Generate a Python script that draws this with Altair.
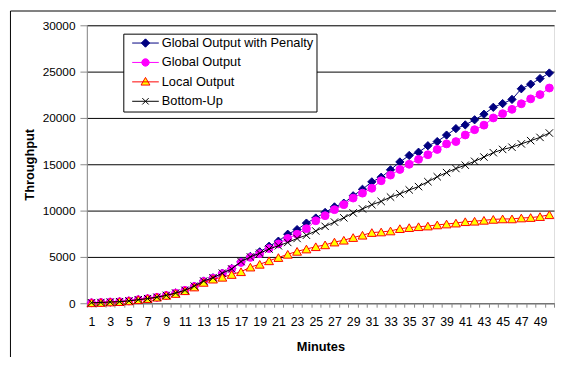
import altair as alt
import pandas as pd
import math

minutes = list(range(1, 51))
series_names = ["Global Output with Penalty", "Global Output", "Local Output", "Bottom-Up"]

penalty = [50, 80, 130, 170, 250, 380, 500, 650, 850, 1100,
           1400, 1850, 2400, 2750, 3250, 3750, 4500, 5050, 5550, 6150,
           6700, 7450, 7950, 8650, 9200, 9800, 10400, 10800, 11600, 12300,
           13100, 13600, 14400, 15250, 15950, 16300, 17000, 17450, 18150, 18850,
           19250, 19800, 20400, 21150, 21550, 22000, 23150, 23650, 24250, 24850]
global_out = [50, 80, 130, 170, 250, 380, 500, 650, 850, 1100,
              1400, 1800, 2350, 2700, 3200, 3700, 4400, 4950, 5350, 5900,
              6400, 7000, 7450, 8050, 8900, 9450, 10100, 10640, 11350, 11880,
              12410, 13220, 13830, 14440, 15000, 15530, 16030, 16600, 17200, 17450,
              18160, 18730, 19220, 20000, 20460, 20930, 21530, 22060, 22520, 23230]
local_out = [50, 80, 130, 170, 250, 380, 500, 650, 850, 1050,
             1350, 1750, 2250, 2600, 2800, 3100, 3400, 3900, 4200, 4580,
             4930, 5280, 5600, 5850, 6100, 6300, 6600, 6800, 7090, 7340,
             7630, 7690, 7800, 8050, 8160, 8260, 8330, 8450, 8550, 8650,
             8800, 8850, 8950, 9050, 9100, 9100, 9200, 9250, 9350, 9550]
bottom_up = [50, 80, 130, 170, 250, 380, 500, 650, 850, 1100,
             1400, 1850, 2400, 2750, 3250, 3700, 4500, 5000, 5400, 5850,
             6200, 6560, 6990, 7340, 7800, 8300, 8760, 9220, 9750, 10180,
             10640, 10990, 11460, 11810, 12230, 12590, 13120, 13650, 14100, 14540,
             14900, 15320, 15780, 16250, 16600, 16840, 17200, 17550, 17900, 18370]

y_ticks = [0, 5000, 10000, 15000, 20000, 25000, 30000]

values = [penalty, global_out, local_out, bottom_up]
rows = []
for name, vals in zip(series_names, values):
    for m, v in zip(minutes, vals):
        rows.append({"minute": m, "value": v, "series": name})
df = pd.DataFrame(rows)

# styles
X_PATH = "M-1,-1L1,1M-1,1L1,-1"
styles = [
    dict(line="#000080", fill="#000080", stroke="#000080", shape="diamond", size=70),
    dict(line="#FF00FF", fill="#FF00FF", stroke="#FF00FF", shape="circle", size=64),
    dict(line="#FF0000", fill="#FFFF00", stroke="#FF0000", shape="triangle-up", size=81),
    dict(line="#000000", fill="transparent", stroke="#000000", shape=X_PATH, size=56),
]

def poly(cx, r, n=16):
    pts = [(cx + r * math.cos(2 * math.pi * k / n), r * math.sin(2 * math.pi * k / n)) for k in range(n)]
    return "M" + "L".join(f"{x:.3f},{y:.3f}" for x, y in pts) + "Z"

LX0, LX1, MC = -0.1, 5.3, 2.6
leg_line = f"M{LX0},0L{LX1},0"
leg_paths = [
    leg_line + f"M{MC-0.85},0L{MC},-0.85L{MC+0.85},0L{MC},0.85Z",
    leg_line + poly(MC, 0.75),
    leg_line + f"M{MC},-0.9L{MC+0.9},0.65L{MC-0.9},0.65Z",
    leg_line + f"M{MC-0.65},-0.65L{MC+0.65},0.65M{MC-0.65},0.65L{MC+0.65},-0.65",
]

W, H = 474, 282
FONT = "Liberation Sans"

x_enc = alt.X("minute:O",
              scale=alt.Scale(type="band", paddingInner=0, paddingOuter=0),
              axis=alt.Axis(title="Minutes", tickBand="extent", labelAngle=0,
                            labelExpr="datum.value % 2 == 1 ? datum.label : ''",
                            labelOverlap=False, tickSize=4, labelPadding=9,
                            labelFontSize=12.5, grid=False,
                            titleFontSize=13, titleFontWeight="bold",
                            titleX=W / 2, titleY=44, titleBaseline="middle"))
y_enc = alt.Y("value:Q",
              scale=alt.Scale(domain=[0, 30000], nice=False),
              axis=alt.Axis(title="Throughput", values=y_ticks, format="d", grid=True,
                            gridColor="black", gridWidth=1, tickSize=7, labelPadding=5,
                            labelFontSize=12, titleFontSize=13, titleFontWeight="bold",
                            titleX=-58, titleY=H / 2, titleAngle=-90,
                            titleAlign="center", titleBaseline="middle"))

base = alt.Chart(df)
layers = []
for name, st in zip(series_names, styles):
    sub = base.transform_filter(alt.datum.series == name)
    layers.append(sub.mark_line(color=st["line"], strokeWidth=1).encode(x=x_enc, y=y_enc))
    layers.append(sub.mark_point(shape=st["shape"], size=st["size"], fill=st["fill"],
                                 stroke=st["stroke"], strokeWidth=1, opacity=1,
                                 filled=st["fill"] != "transparent")
                  .encode(x=x_enc, y=y_enc))

leg = alt.Legend(title=None, orient="none", legendX=37, legendY=8.5,
                 fillColor="white", strokeColor="black", padding=3,
                 symbolSize=100, symbolStrokeWidth=1, symbolOpacity=1,
                 symbolOffset=0, labelOffset=23, rowPadding=5.7,
                 labelFont=FONT, labelFontSize=13, labelColor="black")
legend_layer = base.transform_filter("false").mark_point(filled=True, opacity=1).encode(
    x=x_enc, y=y_enc,
    shape=alt.Shape("series:N", scale=alt.Scale(domain=series_names, range=leg_paths), legend=leg),
    fill=alt.Fill("series:N", scale=alt.Scale(domain=series_names, range=[s["fill"] for s in styles]), legend=leg),
    stroke=alt.Stroke("series:N", scale=alt.Scale(domain=series_names, range=[s["line"] for s in styles]), legend=leg),
)

frame = alt.Chart(pd.DataFrame({"a": [0]})).mark_rect(fill="transparent", stroke="black", strokeWidth=1).encode(
    x=alt.value(-77.5), x2=alt.value(W + 20), y=alt.value(-14.5), y2=alt.value(H + 80))

chart = alt.layer(*layers, legend_layer, frame).properties(
    width=W, height=H,
    autosize=alt.AutoSizeParams(type="none"),
    padding={"left": 80, "top": 15, "right": 2, "bottom": 52},
).configure_view(stroke="black", strokeWidth=1).configure_axis(
    domainColor="black", tickColor="black", labelColor="black", titleColor="black",
    labelFont=FONT, titleFont=FONT,
).configure(background="white")

chart.save("out.html", embed_options={"renderer": "svg", "actions": False})
